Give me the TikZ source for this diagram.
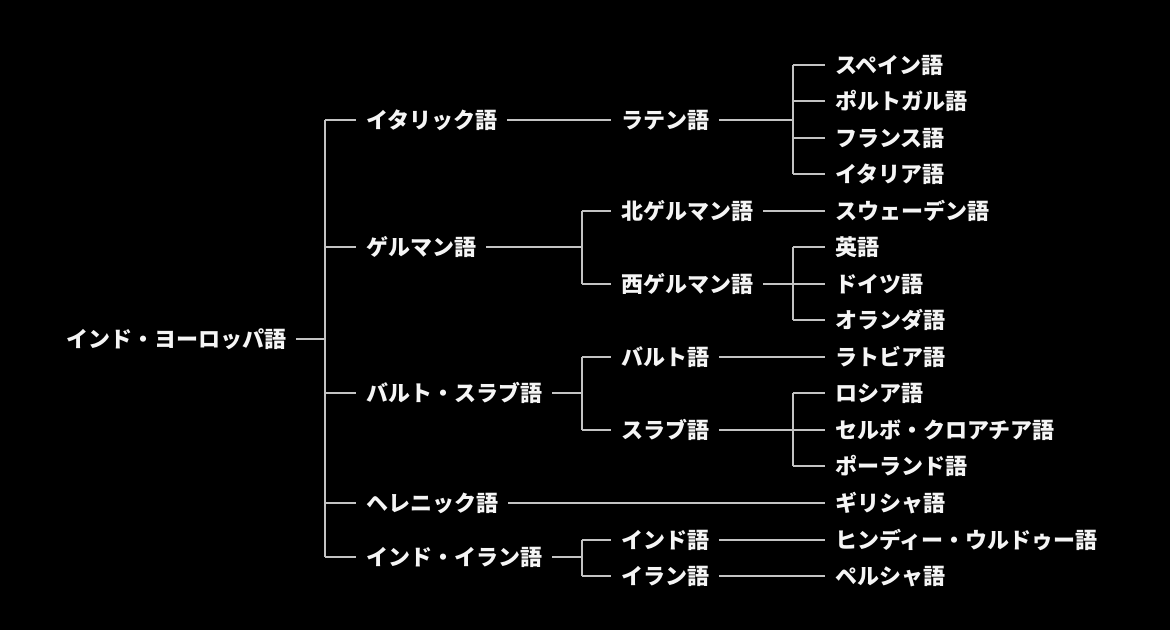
\documentclass[tikz,border=0pt]{standalone}
\usepackage{fontspec}
\newfontfamily\jp{Noto Sans CJK JP}
\definecolor{linegray}{RGB}{195,195,195}
\definecolor{txt}{RGB}{245,245,245}
\begin{document}
\begin{tikzpicture}[x=1pt,y=-1pt,
  lang/.style={anchor=west,inner sep=0pt,outer xsep=10pt,text=txt,
    font=\jp\bfseries\fontsize{22pt}{24pt}\selectfont,
    text height=19pt,text depth=2.5pt},
  conn/.style={draw=linegray,line width=1.8pt}]
\fill[black] (0,0) rectangle (1170,630);
\useasboundingbox (0,0) rectangle (1170,630);
% root
\node[lang] (root) at (56,339) {インド・ヨーロッパ語};
% level 1
\node[lang] (italic) at (356,120) {イタリック語};
\node[lang] (germ) at (356,247) {ゲルマン語};
\node[lang] (bs) at (356,393) {バルト・スラブ語};
\node[lang] (hell) at (356,503) {ヘレニック語};
\node[lang] (ii) at (356,557) {インド・イラン語};
% level 2
\node[lang] (latin) at (611,120) {ラテン語};
\node[lang] (ngerm) at (611,211) {北ゲルマン語};
\node[lang] (wgerm) at (611,284) {西ゲルマン語};
\node[lang] (baltic) at (611,357) {バルト語};
\node[lang] (slavic) at (611,430) {スラブ語};
\node[lang] (indic) at (611,540) {インド語};
\node[lang] (iran) at (611,576) {イラン語};
% leaves
\node[lang] (es) at (825,65) {スペイン語};
\node[lang] (pt) at (825,101) {ポルトガル語};
\node[lang] (fr) at (825,138) {フランス語};
\node[lang] (it) at (825,174) {イタリア語};
\node[lang] (sv) at (825,211) {スウェーデン語};
\node[lang] (en) at (825,247) {英語};
\node[lang] (de) at (825,284) {ドイツ語};
\node[lang] (nl) at (825,320) {オランダ語};
\node[lang] (lv) at (825,357) {ラトビア語};
\node[lang] (ru) at (825,393) {ロシア語};
\node[lang] (sh) at (825,430) {セルボ・クロアチア語};
\node[lang] (pl) at (825,466) {ポーランド語};
\node[lang] (el) at (825,503) {ギリシャ語};
\node[lang] (hi) at (825,540) {ヒンディー・ウルドゥー語};
\node[lang] (fa) at (825,576) {ペルシャ語};
% junctions
\coordinate (j0) at (325,339);
\coordinate (jlat) at (793,120);
\coordinate (jgerm) at (582,247);
\coordinate (jwg) at (793,284);
\coordinate (jbs) at (582,393);
\coordinate (jsl) at (793,430);
\coordinate (jii) at (582,557);
% root connections
\draw[conn] (root.east) -- (j0);
\draw[conn] (j0 |- italic.west) -- (j0 |- ii.west);
\foreach \n in {italic,germ,bs,hell,ii}
  \draw[conn] (j0 |- \n.west) -- (\n.west);
% italic
\draw[conn] (italic.east) -- (latin.west);
\draw[conn] (latin.east) -- (jlat);
\draw[conn] (jlat |- es.west) -- (jlat |- it.west);
\foreach \n in {es,pt,fr,it}
  \draw[conn] (jlat |- \n.west) -- (\n.west);
% germanic
\draw[conn] (germ.east) -- (jgerm);
\draw[conn] (jgerm |- ngerm.west) -- (jgerm |- wgerm.west);
\foreach \n in {ngerm,wgerm}
  \draw[conn] (jgerm |- \n.west) -- (\n.west);
\draw[conn] (ngerm.east) -- (sv.west);
\draw[conn] (wgerm.east) -- (jwg);
\draw[conn] (jwg |- en.west) -- (jwg |- nl.west);
\foreach \n in {en,de,nl}
  \draw[conn] (jwg |- \n.west) -- (\n.west);
% balto-slavic
\draw[conn] (bs.east) -- (jbs);
\draw[conn] (jbs |- baltic.west) -- (jbs |- slavic.west);
\foreach \n in {baltic,slavic}
  \draw[conn] (jbs |- \n.west) -- (\n.west);
\draw[conn] (baltic.east) -- (lv.west);
\draw[conn] (slavic.east) -- (jsl);
\draw[conn] (jsl |- ru.west) -- (jsl |- pl.west);
\foreach \n in {ru,sh,pl}
  \draw[conn] (jsl |- \n.west) -- (\n.west);
% hellenic
\draw[conn] (hell.east) -- (el.west);
% indo-iranian
\draw[conn] (ii.east) -- (jii);
\draw[conn] (jii |- indic.west) -- (jii |- iran.west);
\foreach \n in {indic,iran}
  \draw[conn] (jii |- \n.west) -- (\n.west);
\draw[conn] (indic.east) -- (hi.west);
\draw[conn] (iran.east) -- (fa.west);
\end{tikzpicture}
\end{document}
